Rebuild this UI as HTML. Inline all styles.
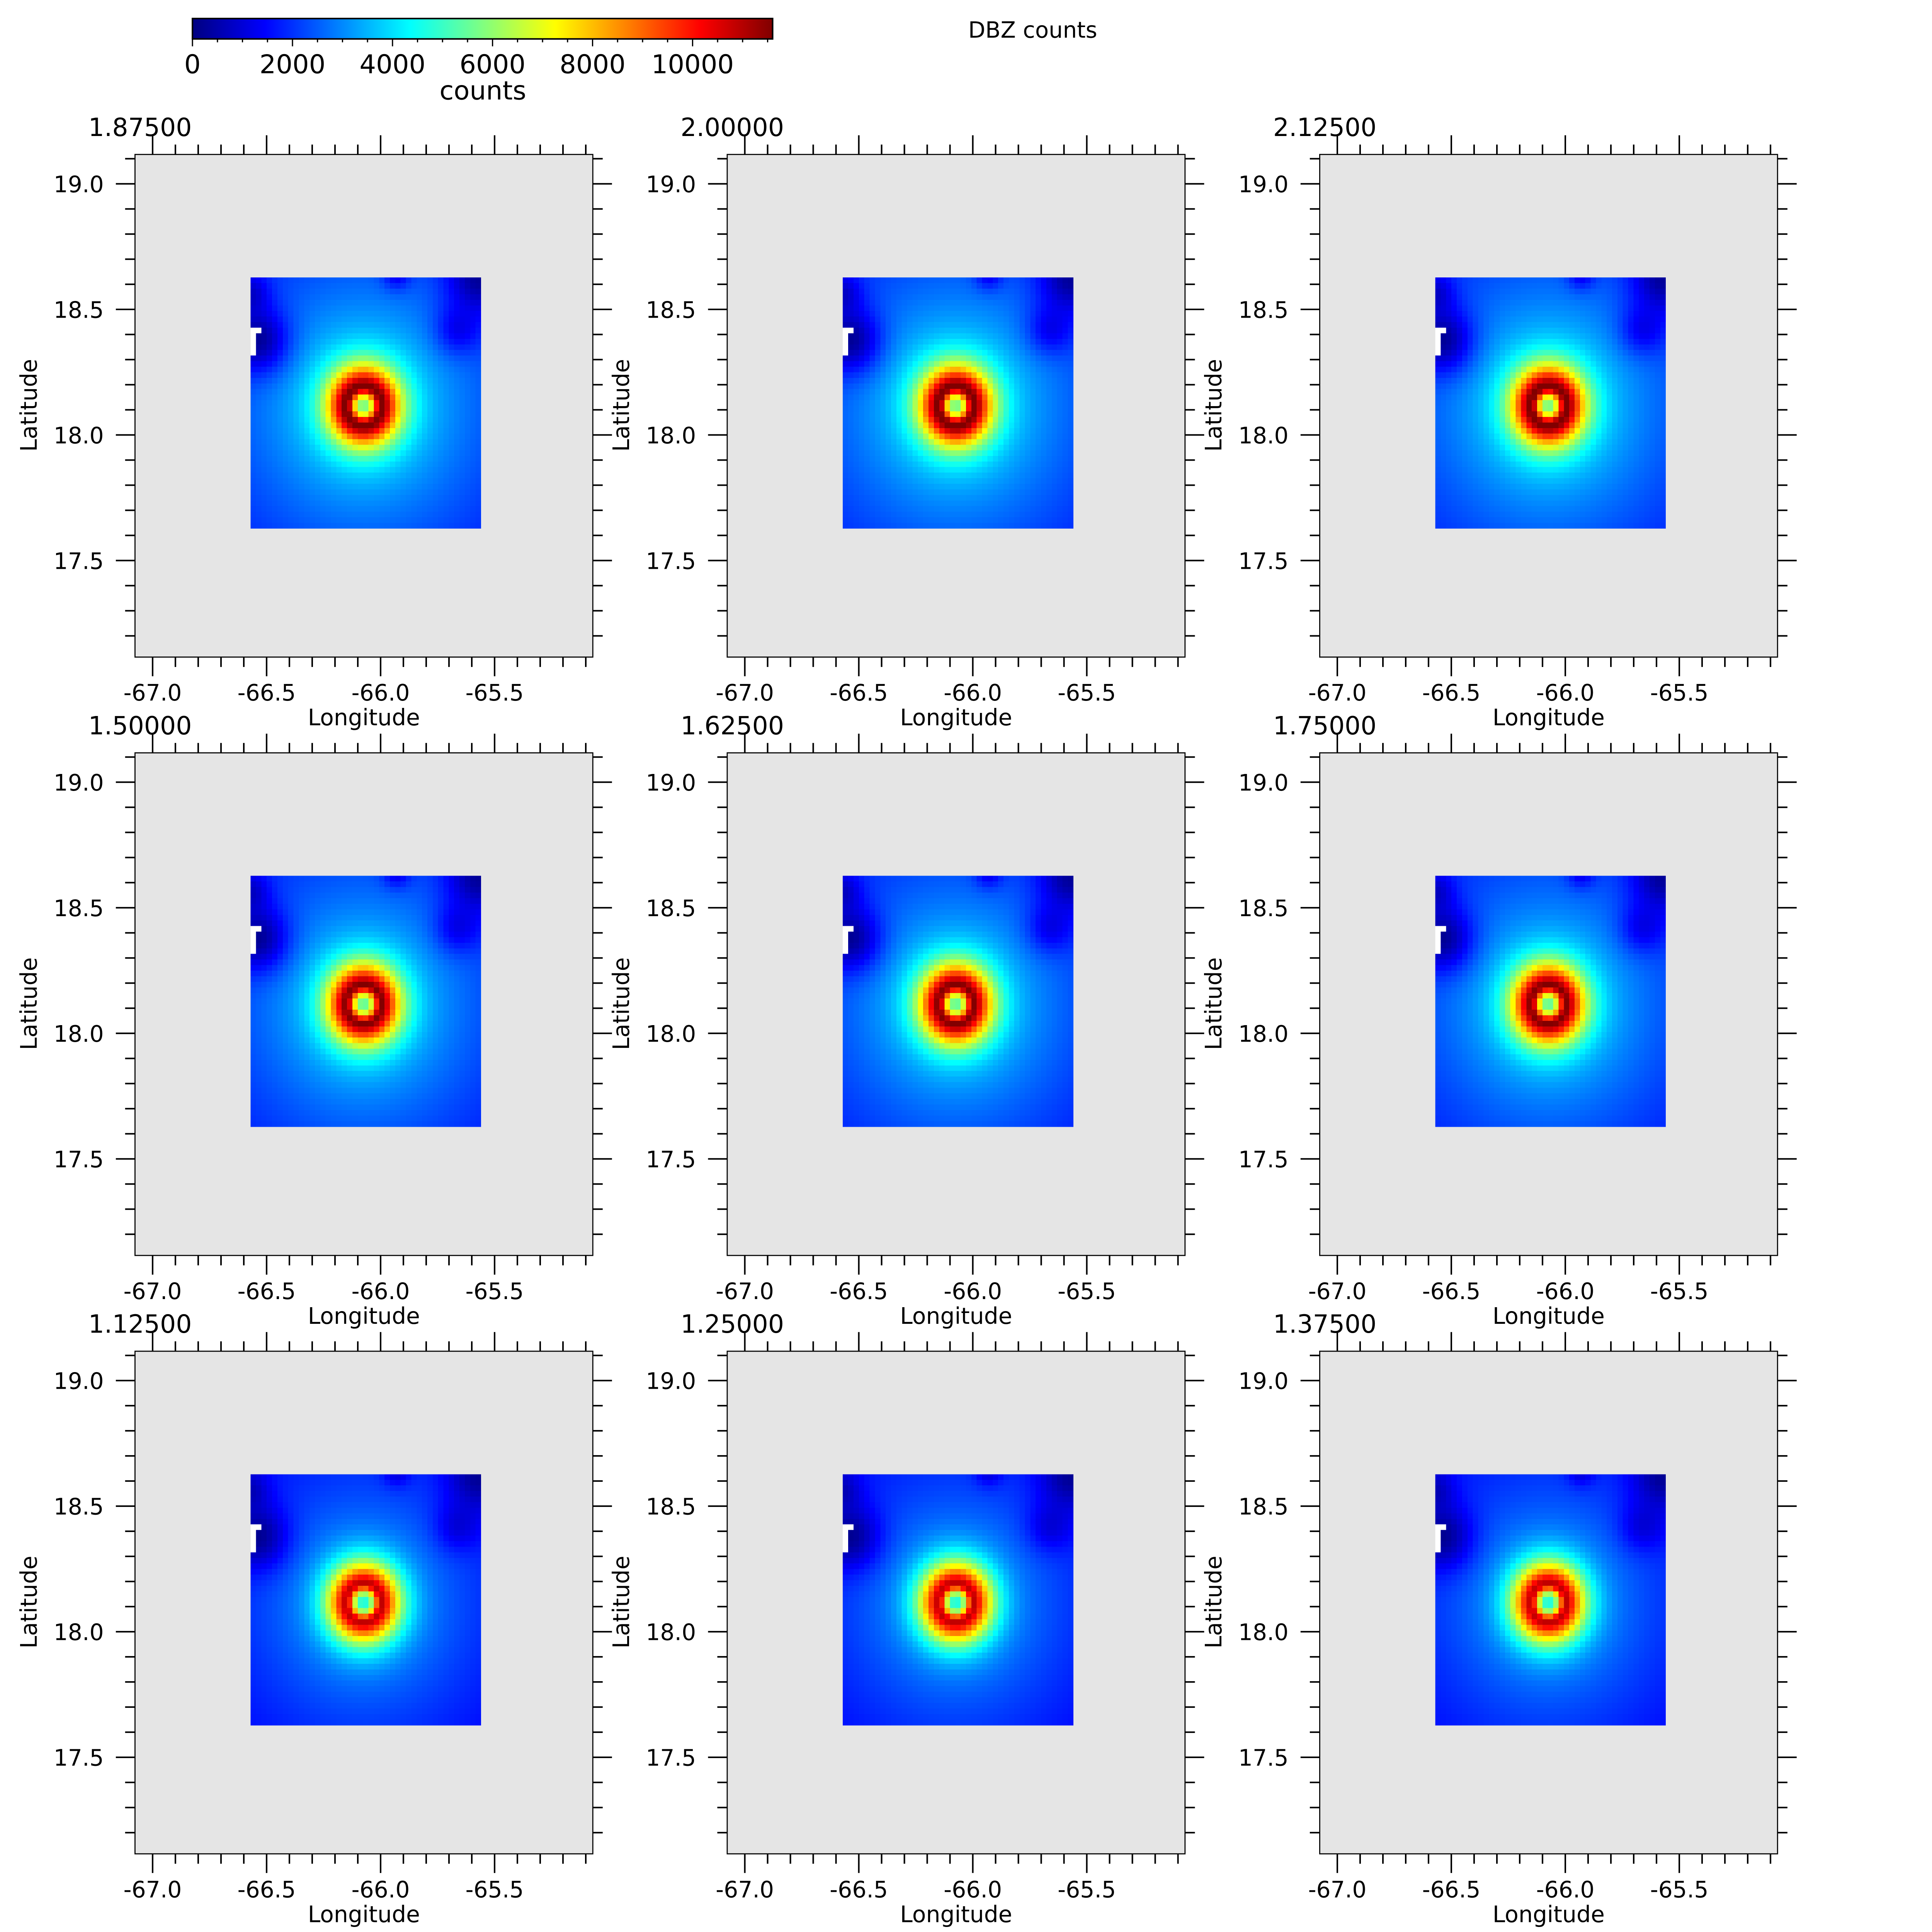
<!DOCTYPE html>
<html><head><meta charset="utf-8">
<style>html,body{margin:0;padding:0;background:#fff;overflow:hidden}svg{display:block;width:100vw;height:100vh}
text{font-family:"DejaVu Sans","Liberation Sans",sans-serif;fill:#000}</style></head>
<body>
<svg id="s" xmlns="http://www.w3.org/2000/svg" viewBox="0 0 6254 6254" preserveAspectRatio="none">
<rect width="6254" height="6254" fill="#fff"/>
<defs><linearGradient id="jet" x1="0" x2="1" y1="0" y2="0"></linearGradient></defs>
<g id="root"></g>
<text x="1563" y="322" font-size="84" text-anchor="middle">counts</text>
<text x="3343" y="122" font-size="72" text-anchor="middle">DBZ counts</text>
</svg>
<script>
var root=document.getElementById('root');
var parts=[];
function jet(x){x=Math.max(0,Math.min(1,x));
 function c(v){v=Math.max(0,Math.min(1,v));return Math.round(v*255);}
 var r=c(1.5-Math.abs(4*x-3)),g=c(1.5-Math.abs(4*x-2)),b=c(1.5-Math.abs(4*x-1));
 return "rgb("+r+","+g+","+b+")";}
var gr=document.getElementById('jet'),gs="";
for(var i=0;i<=40;i++){gs+='<stop offset="'+(i/40)+'" stop-color="'+jet(i/40)+'"/>';}
gr.innerHTML=gs;
var VMAX=11600;
var cbL=623,cbR=2501,cbT=60,cbB=126;
parts.push('<rect x="'+cbL+'" y="'+cbT+'" width="'+(cbR-cbL)+'" height="'+(cbB-cbT)+'" fill="url(#jet)" stroke="#000" stroke-width="5"/>');
for(var v=0;v<=11500;v+=500){var x=cbL+(cbR-cbL)*v/VMAX;var maj=(v%2000==0);
 parts.push('<line x1="'+x+'" y1="'+cbB+'" x2="'+x+'" y2="'+(cbB+(maj?24:11))+'" stroke="#000" stroke-width="4"/>');
 if(maj)parts.push('<text x="'+x+'" y="237" font-size="84" text-anchor="middle">'+v+'</text>');}
var titles=[["1.87500","2.00000","2.12500"],["1.50000","1.62500","1.75000"],["1.12500","1.25000","1.37500"]];
var lefts=[437,2354,4272],tops=[500,2437,4374];
var tailF=[1.0,0.95,0.8];
var NC=43,NR=45,lon0=-66.57,lon1=-65.56,lat0=18.627,lat1=17.628;
function field(lon,lat,tf){
 var dx=(lon+66.074),dy=(lat-18.116);var r=Math.sqrt(dx*dx+dy*dy);
 var tail=(900+4600*Math.exp(-r/0.5))*tf;
 var pk;
 if(r<0.08)pk=7000*Math.exp(-Math.pow((0.08-r)/0.04,2));
 else pk=7000*Math.exp(-Math.pow((r-0.08)/0.09,1.5));
 var v=tail+pk;
 function dip(cx,cy,s,a){var ddx=lon-cx,ddy=lat-cy;return 1-a*Math.exp(-(ddx*ddx+ddy*ddy)/(s*s));}
 v*=dip(-66.54,18.38,0.13,0.9);
 v*=dip(-66.57,18.56,0.08,0.6);
 v*=dip(-65.57,18.62,0.13,0.85);
 v*=dip(-65.66,18.42,0.1,0.5);
 v*=dip(-65.93,18.64,0.06,0.5);
 return v;}
for(var R=0;R<3;R++)for(var C=0;C<3;C++){
 var L=lefts[C],T=tops[R];
 var X=function(lon){return L+57+(lon+67)*738;};
 var Y=function(lat){return T+95+(19-lat)*813;};
 parts.push('<rect x="'+L+'" y="'+T+'" width="1482" height="1627" fill="#e5e5e5"/>');
 var cw=(X(lon1)-X(lon0))/NC,ch=(Y(lat1)-Y(lat0))/NR;
 var s='<g shape-rendering="crispEdges">';
 for(var j=0;j<NR;j++)for(var i=0;i<NC;i++){
  var white=(j==9&&i<2)||(j>=10&&j<=13&&i==0);
  var lon=lon0+(i+0.5)*(lon1-lon0)/NC,lat=lat0+(j+0.5)*(lat1-lat0)/NR;
  var col=white?"#fff":jet(field(lon,lat,tailF[R])/VMAX);
  s+='<rect x="'+(X(lon0)+i*cw).toFixed(1)+'" y="'+(Y(lat0)+j*ch).toFixed(1)+'" width="'+(cw+0.8).toFixed(1)+'" height="'+(ch+0.8).toFixed(1)+'" fill="'+col+'"/>';}
 s+='</g>';parts.push(s);
 parts.push('<rect x="'+L+'" y="'+T+'" width="1482" height="1627" fill="none" stroke="#000" stroke-width="3.5"/>');
 for(var k=-670;k<=-651;k++){var lon=k/10;var x=X(lon);if(x<L||x>L+1482)continue;var maj=(k%5==0);var len=maj?62:32;
  parts.push('<line x1="'+x+'" y1="'+T+'" x2="'+x+'" y2="'+(T-len)+'" stroke="#000" stroke-width="5"/>');
  parts.push('<line x1="'+x+'" y1="'+(T+1627)+'" x2="'+x+'" y2="'+(T+1627+len)+'" stroke="#000" stroke-width="5"/>');
  if(maj)parts.push('<text x="'+x+'" y="'+(T+1768)+'" font-size="73" text-anchor="middle">'+lon.toFixed(1)+'</text>');}
 for(var k=172;k<=191;k++){var lat=k/10;var y=Y(lat);if(y<T||y>T+1627)continue;var maj=(k%5==0);var len=maj?62:32;
  parts.push('<line x1="'+L+'" y1="'+y+'" x2="'+(L-len)+'" y2="'+y+'" stroke="#000" stroke-width="5"/>');
  parts.push('<line x1="'+(L+1482)+'" y1="'+y+'" x2="'+(L+1482+len)+'" y2="'+y+'" stroke="#000" stroke-width="5"/>');
  if(maj)parts.push('<text x="'+(L-101)+'" y="'+(y+27)+'" font-size="73" text-anchor="end">'+lat.toFixed(1)+'</text>');}
 parts.push('<text x="'+(L+741)+'" y="'+(T+1848)+'" font-size="73" text-anchor="middle">Longitude</text>');
 parts.push('<text transform="translate('+(L-318)+','+(T+812)+') rotate(-90)" font-size="73" text-anchor="middle">Latitude</text>');
 parts.push('<text x="'+(L-151)+'" y="'+(T-60)+'" font-size="81">'+titles[R][C]+'</text>');
}
root.innerHTML=parts.join('');
</script>
</body></html>
